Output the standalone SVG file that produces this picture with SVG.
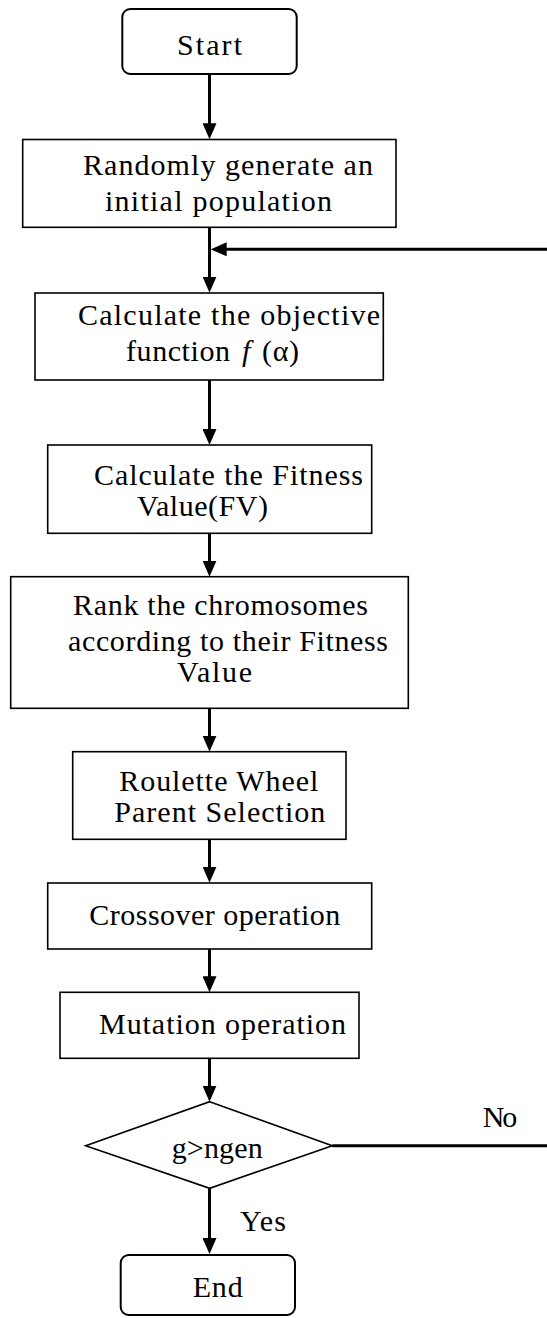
<svg xmlns="http://www.w3.org/2000/svg" width="547" height="1318" viewBox="0 0 547 1318">
<defs>
<style>
.box{fill:#fff;stroke:#000;stroke-width:1.6}
.term{fill:#fff;stroke:#000;stroke-width:2}
.t{font-family:"Liberation Serif","Times New Roman",serif;font-size:30px;fill:#000}
.c{fill:none;stroke:#000;stroke-width:3}
</style>
<marker id="ah" markerUnits="userSpaceOnUse" markerWidth="16" markerHeight="14" refX="6" refY="7" orient="auto" viewBox="0 0 16 14">
<path d="M0,0 L16,7 L0,14 z" fill="#000"/>
</marker>
</defs>
<rect width="547" height="1318" fill="#fff"/>
<g id="connectors">
<path class="c" d="M209.5,74 V129.3" marker-end="url(#ah)"/>
<path class="c" d="M209.5,227.3 V282.7" marker-end="url(#ah)"/>
<path class="c" d="M547,249.3 H220.7" marker-end="url(#ah)"/>
<path class="c" d="M209.5,380 V435" marker-end="url(#ah)"/>
<path class="c" d="M209.5,533.3 V566.7" marker-end="url(#ah)"/>
<path class="c" d="M209.5,708.3 V741.7" marker-end="url(#ah)"/>
<path class="c" d="M209.5,839.3 V872.7" marker-end="url(#ah)"/>
<path class="c" d="M209.5,949 V982.3" marker-end="url(#ah)"/>
<path class="c" d="M209.5,1058.3 V1091.7" marker-end="url(#ah)"/>
<path class="c" d="M209.5,1188.3 V1244" marker-end="url(#ah)"/>
<path class="c" d="M332.3,1145.7 H547"/>
<text class="t" x="482.7" y="1126.7" textLength="34.6">No</text>
<text class="t" x="240" y="1230.5" textLength="46">Yes</text>
</g>
<g id="start">
<rect class="term" x="122.3" y="9" width="174.4" height="65" rx="8"/>
<text class="t" x="177" y="55" textLength="65">Start</text>
</g>
<g id="init">
<rect class="box" x="22.7" y="139.5" width="373.3" height="87.8"/>
<text class="t" x="83" y="175" textLength="290">Randomly generate an</text>
<text class="t" x="105" y="210.7" textLength="227">initial population</text>
</g>
<g id="objective">
<rect class="box" x="35" y="293" width="348.3" height="87"/>
<text class="t" x="78" y="324.5" textLength="302">Calculate the objective</text>
<text class="t" x="126" y="361" textLength="104">function</text>
<text class="t" x="242" y="361" font-style="italic">f</text>
<text class="t" x="262" y="361" textLength="37">(α)</text>
</g>
<g id="fitness">
<rect class="box" x="47.7" y="445" width="324" height="88.3"/>
<text class="t" x="94" y="485" textLength="269">Calculate the Fitness</text>
<text class="t" x="137" y="516" textLength="131">Value(FV)</text>
</g>
<g id="rank">
<rect class="box" x="10.7" y="576.7" width="397.6" height="131.6"/>
<text class="t" x="73" y="615" textLength="295">Rank the chromosomes</text>
<text class="t" x="68" y="650.7" textLength="320">according to their Fitness</text>
<text class="t" x="177" y="681.7" textLength="75">Value</text>
</g>
<g id="selection">
<rect class="box" x="72.7" y="751.7" width="273.3" height="87.6"/>
<text class="t" x="119.3" y="790.7" textLength="199">Roulette Wheel</text>
<text class="t" x="114.3" y="821.7" textLength="211">Parent Selection</text>
</g>
<g id="crossover">
<rect class="box" x="47.7" y="883" width="324" height="66"/>
<text class="t" x="89.3" y="925" textLength="251">Crossover operation</text>
</g>
<g id="mutation">
<rect class="box" x="60" y="992.3" width="299" height="66"/>
<text class="t" x="99" y="1034" textLength="247">Mutation operation</text>
</g>
<g id="decision">
<polygon class="box" points="209.7,1101.7 332.3,1145.7 209.7,1188.3 85.7,1145.7"/>
<text class="t" x="171.7" y="1158.3" textLength="91">g&gt;ngen</text>
</g>
<g id="end">
<rect class="term" x="120.7" y="1255" width="174.3" height="60" rx="8"/>
<text class="t" x="192.7" y="1297.3" textLength="50">End</text>
</g>
</svg>
